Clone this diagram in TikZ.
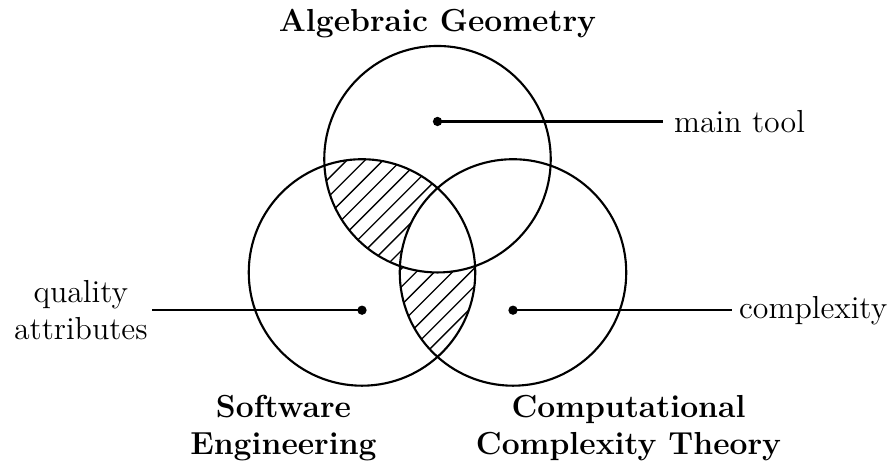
\documentclass[tikz,border=0pt]{standalone}
\begin{document}
\begin{tikzpicture}[
  ring/.style={line width=0.8pt},
  hatchline/.style={line width=0.5pt},
  dotmark/.style={circle,fill=black,inner sep=0pt,minimum size=3.5pt},
  conn/.style={line width=0.8pt},
  title/.style={font=\large\bfseries,align=center},
  note/.style={font=\large,align=center}
]
\useasboundingbox (-5.795,-2.497) rectangle (6.007,3.609);
% hatched regions
\begin{scope}
  \clip (0,1.5) circle (1.5);
  \clip (-1,0) circle (1.5);
  \begin{scope}[even odd rule]
    \clip (-6,-3) rectangle (6,4) (1,0) circle (1.5);
    \foreach \k in {-30,...,30}
      \draw[hatchline] ({-0.287+\k*0.24-4},-4) -- ({-0.287+\k*0.24+5},5);
  \end{scope}
\end{scope}
\begin{scope}
  \clip (-1,0) circle (1.5);
  \clip (1,0) circle (1.5);
  \begin{scope}[even odd rule]
    \clip (-6,-3) rectangle (6,4) (0,1.5) circle (1.5);
    \foreach \k in {-30,...,30}
      \draw[hatchline] ({-0.287+\k*0.24-4},-4) -- ({-0.287+\k*0.24+5},5);
  \end{scope}
\end{scope}
% circles
\draw[ring] (0,1.5) circle (1.5);
\draw[ring] (-1,0) circle (1.5);
\draw[ring] (1,0) circle (1.5);
% dots
\node[dotmark] (dA) at (0,2) {};
\node[dotmark] (dS) at (-1,-0.5) {};
\node[dotmark] (dC) at (1,-0.5) {};
% notes
\node[note,anchor=west,inner xsep=4pt] (mt) at (2.987,2) {main tool};
\node[note,anchor=east,inner xsep=1.5pt] (qa) at (-3.78,-0.5) {quality\\attributes};
\node[note,anchor=west,inner xsep=2.5pt] (cx) at (3.9,-0.5) {complexity};
\draw[conn] (dA.center) -- (mt.west);
\draw[conn] (dS.center) -- (qa.east);
\draw[conn] (dC.center) -- (cx.west);
% titles
\node[title,anchor=base] (tA) at (0,3.185) {Algebraic Geometry};
\node[title,anchor=north] (tS) at (-2.04,-1.5) {Software\\Engineering};
\node[title,anchor=north] (tC) at (2.53,-1.5) {Computational\\Complexity Theory};
\end{tikzpicture}
\end{document}
